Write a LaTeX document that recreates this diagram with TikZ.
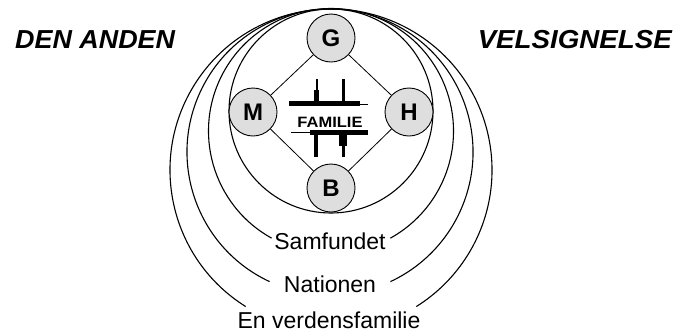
\documentclass[tikz,border=0pt]{standalone}
\usepackage{graphicx}
\usepackage{fontspec}
\setmainfont{Liberation Sans}
\begin{document}
\begin{tikzpicture}[x=1pt,y=-1pt,
  person/.style={circle,draw,line width=0.9pt,fill=black!13,minimum size=48pt,inner sep=0pt,font=\bfseries\fontsize{24}{24}\selectfont},
  ring/.style={line width=1.1pt},
  link/.style={line width=0.8pt},
  level/.style={anchor=base,inner sep=0pt,font=\fontsize{23}{23}\selectfont},
  title/.style={inner sep=0pt,font=\bfseries\itshape\fontsize{26}{26}\selectfont}]
\useasboundingbox (0,0) rectangle (676,333);
% rings
\draw[ring] (331,111) circle[radius=102];
\draw[ring] (331,131) ++(119:122.5) arc[start angle=119,end angle=421,radius=122.5];
\draw[ring] (330,152) ++(115:143) arc[start angle=115,end angle=425,radius=143];
\draw[ring] (331,170) ++(122:161) arc[start angle=122,end angle=418,radius=161];
% family symbol
\fill (289,101) rectangle (360,106);
\draw[line width=1pt] (360,104) -- (368,104);
\fill (315.8,79) rectangle (317.6,91);
\fill (314.2,90) rectangle (319,101);
\fill (342,79) rectangle (345,101);
\fill (310,130) rectangle (368,135);
\draw[line width=1pt] (291,132) -- (310,132);
\fill (314,135) rectangle (317.5,157);
\fill (339,135) rectangle (347,146);
\fill (342,146) rectangle (345,157);
\node[anchor=base,inner sep=0pt,font=\bfseries\fontsize{15}{15}\selectfont] (fam) at (330,127) {\scalebox{1.1}[1]{FAMILIE}};
% persons
\node[person] (G) at (331,38) {G};
\node[person] (M) at (253,112) {M};
\node[person] (H) at (409,112) {H};
\node[person] (B) at (331,188) {B};
\draw[link] (G) -- (M);
\draw[link] (G) -- (H);
\draw[link] (M) -- (B);
\draw[link] (H) -- (B);
% labels
\node[level] (sam) at (330,249) {Samfundet};
\node[level] (nat) at (330,292) {Nationen};
\node[level] (ver) at (329,328.5) {En verdensfamilie};
\node[title,anchor=base west] (den) at (15,48) {\scalebox{1.035}[1]{DEN ANDEN}};
\node[title,anchor=base east] (vel) at (672,48) {\scalebox{1.066}[1]{VELSIGNELSE}};
\end{tikzpicture}
\end{document}
